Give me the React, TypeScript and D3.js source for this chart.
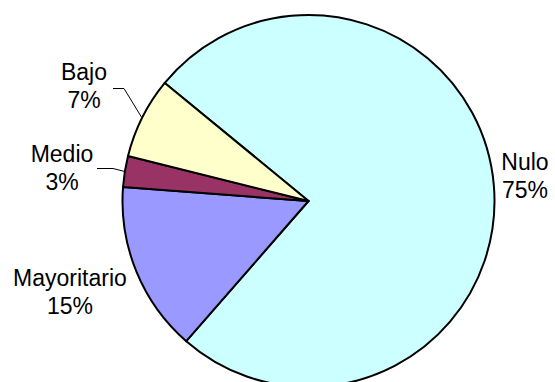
import React from "react";
import * as d3 from "d3";

// ---- data ----
const categories = ["Nulo", "Mayoritario", "Medio", "Bajo"];
const values = [75.47, 14.78, 2.69, 7.06];
const colors = ["#CCFFFF", "#9999FF", "#993366", "#FFFFCC"];

// ---- layout ----
const W = 555;
const H = 382;
const CX = 308.5;
const CY = 201;
const R = 186;
const START_DEG = 309.4;
const FONT = "'Liberation Sans', Arial, sans-serif";
const FONT_SIZE = 23;
const LINE_GAP = 28;
// label anchor (centre x, first baseline y), per category
const labelPos: [number, number][] = [
  [525, 170],
  [70, 286],
  [62, 162],
  [84, 80],
];
// leader lines: start point and elbow, or null
const leaders: ([number, number][] | null)[] = [
  null,
  null,
  [
    [97, 168.5],
    [113, 168.5],
  ],
  [
    [113, 88.5],
    [124, 88.5],
  ],
];

export default function App() {
  const total = d3.sum(values);
  const start = (START_DEG * Math.PI) / 180;
  const pie = d3
    .pie<number>()
    .sort(null)
    .value((d) => d)
    .startAngle(start)
    .endAngle(start + 2 * Math.PI);
  const arcs = pie(values);
  const arc = d3.arc<d3.PieArcDatum<number>>().innerRadius(0).outerRadius(R);

  const edgePoint = (a: d3.PieArcDatum<number>, r: number): [number, number] => {
    const m = (a.startAngle + a.endAngle) / 2;
    return [CX + r * Math.sin(m), CY - r * Math.cos(m)];
  };

  return (
    <svg
      width={W}
      height={H}
      style={{ position: "absolute", left: 0, top: 0, background: "#fff" }}
    >
      <g transform={`translate(${CX},${CY})`}>
        {arcs.map((a, i) => (
          <path
            key={i}
            d={arc(a) || ""}
            fill={colors[i]}
            stroke="#000"
            strokeWidth={2}
            strokeLinejoin="round"
          />
        ))}
      </g>
      {arcs.map((a, i) => {
        const pts = leaders[i];
        if (!pts) return null;
        const end = edgePoint(a, R + 1);
        const all = [...pts, end];
        return (
          <polyline
            key={"l" + i}
            points={all.map((p) => p.join(",")).join(" ")}
            fill="none"
            stroke="#000"
            strokeWidth={1}
          />
        );
      })}
      {categories.map((c, i) => {
        const [x, y] = labelPos[i];
        const pct = Math.round((values[i] / total) * 100) + "%";
        return (
          <text
            key={"t" + i}
            x={x}
            y={y}
            textAnchor="middle"
            fontFamily={FONT}
            fontSize={FONT_SIZE}
            fill="#000"
          >
            <tspan x={x} y={y}>
              {c}
            </tspan>
            <tspan x={x} y={y + LINE_GAP}>
              {pct}
            </tspan>
          </text>
        );
      })}
    </svg>
  );
}
